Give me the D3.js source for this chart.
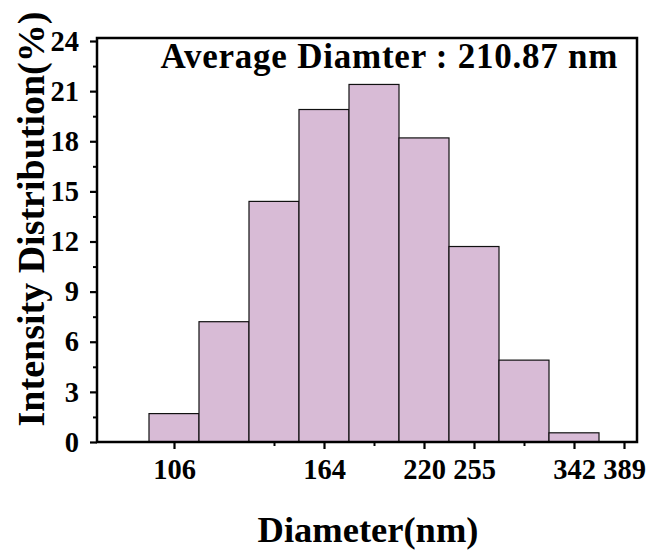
<!DOCTYPE html>
<html>
<head>
<meta charset="utf-8">
<script src="https://cdn.jsdelivr.net/npm/d3@7"></script>
<style>
  body { margin: 0; background: #fff; }
</style>
</head>
<body>
<div id="container"></div>
<script>
// histogram bins (index of bin) and intensity values (%)
const binIndex = [0, 1, 2, 3, 4, 5, 6, 7, 8];
const intensity = [1.7, 7.2, 14.4, 19.9, 21.4, 18.2, 11.7, 4.9, 0.55];
// labelled x ticks: position in bin units and label
const xTickPos = [0, 3, 5, 6, 8, 9];
const xTickLabels = ["106", "164", "220", "255", "342", "389"];
const xMinorPos = [2, 4, 7];
const yTicks = [0, 3, 6, 9, 12, 15, 18, 21, 24];
const yMinor = [1.5, 4.5, 7.5, 10.5, 13.5, 16.5, 19.5, 22.5];

const W = 651, H = 559;
const plotLeft = 97, plotRight = 637, plotTop = 38, plotBottom = 442;
const font = "'Liberation Serif', 'Times New Roman', serif";

let viz = d3.select("#container")
  .append("svg")
    .attr("width", W)
    .attr("height", H)
;

// bin index -> pixel (bin centre)
let x = d3.scaleLinear().domain([-0.5, 9.28]).range([149, 638]);
let y = d3.scaleLinear().domain([0, 24.18]).range([plotBottom, plotTop]);

// bars
viz.selectAll("rect.bar")
  .data(binIndex)
  .enter()
  .append("rect")
    .attr("class", "bar")
    .attr("x", i => x(i - 0.5))
    .attr("width", i => x(i + 0.5) - x(i - 0.5))
    .attr("y", i => y(intensity[i]))
    .attr("height", i => y(0) - y(intensity[i]))
    .attr("fill", "#d8bbd6")
    .attr("stroke", "#111")
    .attr("stroke-width", 1.2)
;

// y axis
let yAxis = d3.axisLeft(y).tickValues(yTicks).tickSize(7).tickSizeOuter(0).tickPadding(11);
let gy = viz.append("g").attr("transform", `translate(${plotLeft},0)`).call(yAxis);
gy.selectAll(".tick line").attr("stroke-width", 2.2);
let gyMinor = viz.append("g").attr("transform", `translate(${plotLeft},0)`)
  .call(d3.axisLeft(y).tickValues(yMinor).tickSize(4).tickSizeOuter(0).tickFormat(""));
gyMinor.selectAll(".tick line").attr("stroke-width", 2);
gyMinor.select(".domain").remove();

// x axis
let xAxis = d3.axisBottom(x).tickValues(xTickPos)
  .tickFormat((d, i) => xTickLabels[i]).tickSize(7).tickSizeOuter(0).tickPadding(10);
let gx = viz.append("g").attr("transform", `translate(0,${plotBottom})`).call(xAxis);
gx.selectAll(".tick line").attr("stroke-width", 2.2);
let gxMinor = viz.append("g").attr("transform", `translate(0,${plotBottom})`)
  .call(d3.axisBottom(x).tickValues(xMinorPos).tickSize(4).tickSizeOuter(0).tickFormat(""));
gxMinor.selectAll(".tick line").attr("stroke-width", 2);
gxMinor.select(".domain").remove();
gx.select(".domain").remove();
gy.select(".domain").remove();

[gx, gy].forEach(g => g.selectAll("text")
  .attr("font-family", font)
  .attr("font-weight", "bold")
  .attr("font-size", 28.5)
  .attr("fill", "#000"));

// frame
viz.append("rect")
    .attr("x", plotLeft)
    .attr("y", plotTop)
    .attr("width", plotRight - plotLeft)
    .attr("height", plotBottom - plotTop)
    .attr("fill", "none")
    .attr("stroke", "black")
    .attr("stroke-width", 2.5)
;

// annotation
viz.append("text")
    .text("Average Diamter : 210.87 nm")
    .attr("x", 389)
    .attr("y", 68)
    .attr("text-anchor", "middle")
    .attr("font-family", font)
    .attr("font-weight", "bold")
    .attr("font-size", 35)
    .attr("textLength", 457)
    .attr("lengthAdjust", "spacing")
;

// axis titles
viz.append("text")
    .text("Diameter(nm)")
    .attr("x", 368)
    .attr("y", 542)
    .attr("text-anchor", "middle")
    .attr("font-family", font)
    .attr("font-weight", "bold")
    .attr("font-size", 36.5)
;
viz.append("text")
    .text("Intensity Distribution(%)")
    .attr("transform", "translate(44,219) rotate(-90)")
    .attr("text-anchor", "middle")
    .attr("font-family", font)
    .attr("font-weight", "bold")
    .attr("font-size", 38)
;
</script>
</body>
</html>
